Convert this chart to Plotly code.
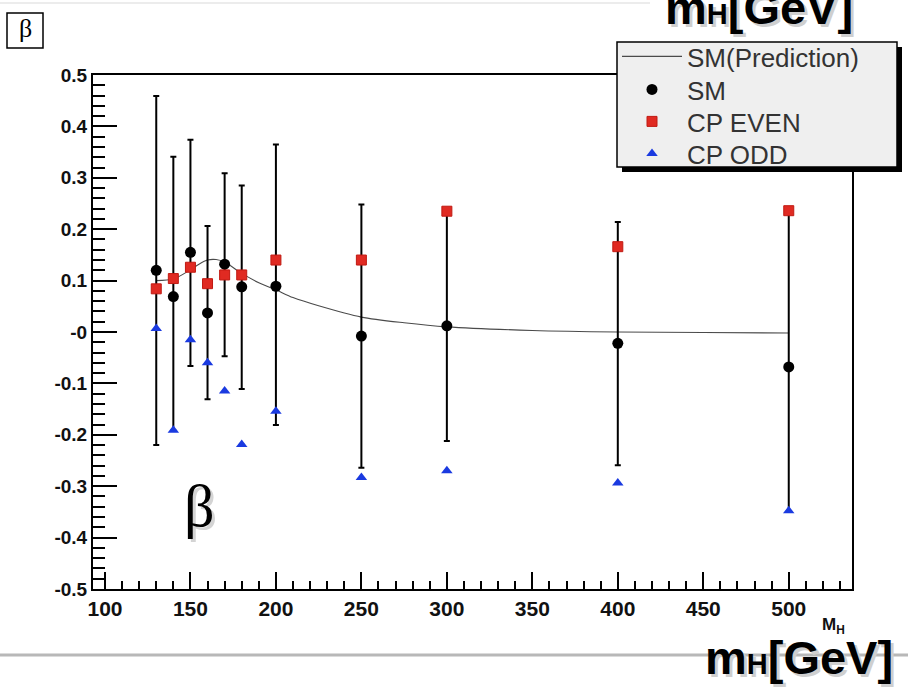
import plotly.graph_objects as go

# ---------------- data ----------------
masses = [130, 140, 150, 160, 170, 180, 200, 250, 300, 400, 500]
sm_beta = [0.120, 0.069, 0.155, 0.037, 0.132, 0.088, 0.089, -0.008, 0.012, -0.022, -0.068]
sm_upper = [0.459, 0.341, 0.374, 0.206, 0.309, 0.285, 0.365, 0.248, 0.235, 0.214, 0.236]
sm_lower = [-0.220, -0.192, -0.066, -0.131, -0.047, -0.111, -0.181, -0.264, -0.212, -0.259, -0.349]
cp_even = [0.084, 0.104, 0.126, 0.094, 0.111, 0.111, 0.140, 0.140, 0.235, 0.166, 0.236]
cp_odd = [0.007, -0.191, -0.015, -0.060, -0.115, -0.219, -0.154, -0.283, -0.270, -0.294, -0.348]

pred_m = [130, 140, 150, 155, 160, 165, 170, 180, 190, 200, 210, 225, 250, 275, 300, 350, 400, 450, 500]
pred_beta = [0.100, 0.103, 0.121, 0.132, 0.140, 0.141, 0.136, 0.114, 0.096, 0.082, 0.067, 0.051, 0.029, 0.018, 0.010, 0.003, 0.000, -0.001, -0.002]

y_tickvals = [-0.5, -0.4, -0.3, -0.2, -0.1, 0.0, 0.1, 0.2, 0.3, 0.4, 0.5]
y_ticktext = ["-0.5", "-0.4", "-0.3", "-0.2", "-0.1", "-0", "0.1", "0.2", "0.3", "0.4", "0.5"]
x_tickvals = [100, 150, 200, 250, 300, 350, 400, 450, 500]

series_names = ["SM(Prediction)", "SM", "CP EVEN", "CP ODD"]

err_plus = [u - v for u, v in zip(sm_upper, sm_beta)]
err_minus = [v - l for v, l in zip(sm_beta, sm_lower)]

# ---------------- geometry helpers (decorations only) ----------------
L, R, T, B = 93, 852, 75, 589
W, H = 908, 689


def px(x):
    return (x - L) / (R - L)


def py(y):
    return (B - y) / (B - T)


SANS = "Liberation Sans, Arial, sans-serif"
SERIF = "Liberation Serif, Times New Roman, serif"

fig = go.Figure()

fig.add_trace(go.Scatter(
    x=pred_m, y=pred_beta, mode="lines", name=series_names[0], legend="legend",
    line=dict(color="#4a4a4a", width=1.1, shape="spline", smoothing=0.8),
))
fig.add_trace(go.Scatter(
    x=masses, y=sm_beta, mode="markers", name=series_names[1], legend="legend2",
    marker=dict(symbol="circle", size=11, color="black"),
    error_y=dict(type="data", symmetric=False, array=err_plus, arrayminus=err_minus,
                 color="black", thickness=2, width=3),
))
fig.add_trace(go.Scatter(
    x=masses, y=cp_even, mode="markers", name=series_names[2], legend="legend3",
    marker=dict(symbol="square", size=10, color="#e02a22", line=dict(color="#c01a12", width=1)),
))
fig.add_trace(go.Scatter(
    x=masses, y=cp_odd, mode="markers", name=series_names[3], legend="legend4",
    marker=dict(symbol="triangle-up", size=10, color="#1a3ae0"),
))

fig.update_xaxes(
    range=[93, 537], showgrid=False, zeroline=False,
    showline=True, linecolor="black", linewidth=2, mirror=True,
    tickmode="array", tickvals=x_tickvals,
    ticks="inside", ticklen=17, tickwidth=1.5, tickcolor="black",
    minor=dict(dtick=10, tick0=100, ticks="inside", ticklen=8, tickwidth=1.5, tickcolor="black"),
    tickfont=dict(family=SANS, size=21, color="#111111", weight="bold"),
)
fig.update_yaxes(
    range=[-0.5, 0.5], showgrid=False, zeroline=False,
    showline=True, linecolor="black", linewidth=2, mirror=True,
    tickmode="array", tickvals=y_tickvals, ticktext=y_ticktext,
    ticks="inside", ticklen=24, tickwidth=1.5, tickcolor="black",
    minor=dict(dtick=0.02, tick0=0, ticks="inside", ticklen=12, tickwidth=1.5, tickcolor="black"),
    tickfont=dict(family=SANS, size=19, color="#111111", weight="bold"),
)

shapes = []
# legend shadow and box
shapes.append(dict(type="rect", xref="paper", yref="paper",
                   x0=px(622), x1=px(902), y0=py(172), y1=py(47),
                   fillcolor="black", line=dict(width=0), layer="above"))
shapes.append(dict(type="rect", xref="paper", yref="paper",
                   x0=px(617), x1=px(897), y0=py(167), y1=py(42),
                   fillcolor="#efefef", line=dict(color="black", width=1.5), layer="above"))
# top-left beta box
shapes.append(dict(type="rect", xref="paper", yref="paper",
                   x0=px(7), x1=px(43), y0=py(48), y1=py(13),
                   fillcolor="white", line=dict(color="black", width=1.5)))
# gray separator line at bottom
shapes.append(dict(type="line", xref="paper", yref="paper",
                   x0=px(0), x1=px(908), y0=py(655), y1=py(655),
                   line=dict(color="#b8b8b8", width=3)))
# faint line at top
shapes.append(dict(type="line", xref="paper", yref="paper",
                   x0=px(0), x1=px(650), y0=py(3), y1=py(3),
                   line=dict(color="#ececec", width=2)))

annotations = []
annotations.append(dict(xref="paper", yref="paper", x=px(25), y=py(28),
                        text="β", showarrow=False, xanchor="center", yanchor="middle",
                        font=dict(family=SERIF, size=26, color="black")))
# big beta inside plot (with soft shadow)
annotations.append(dict(xref="paper", yref="paper", x=px(202), y=py(509),
                        text="β", showarrow=False, xanchor="center", yanchor="middle",
                        font=dict(family=SERIF, size=60, color="#d4d4d4")))
annotations.append(dict(xref="paper", yref="paper", x=px(199), y=py(506),
                        text="β", showarrow=False, xanchor="center", yanchor="middle",
                        font=dict(family=SERIF, size=60, color="black")))
# axis title M_H
annotations.append(dict(xref="paper", yref="paper", x=px(820), y=py(626),
                        text="M<sub>H</sub>", showarrow=False, xanchor="left", yanchor="middle",
                        font=dict(family=SANS, size=17, color="#111111", weight="bold")))

big_txt = "m<span style='font-size:29px'>H</span>[GeV]"
for (xx, yy) in [(703, 657), (663, 7)]:
    annotations.append(dict(xref="paper", yref="paper", x=px(xx + 3), y=py(yy + 3),
                            text=big_txt, showarrow=False, xanchor="left", yanchor="middle",
                            font=dict(family=SANS, size=47, color="#cfcfcf", weight="bold")))
    annotations.append(dict(xref="paper", yref="paper", x=px(xx), y=py(yy),
                            text=big_txt, showarrow=False, xanchor="left", yanchor="middle",
                            font=dict(family=SANS, size=47, color="black", weight="bold")))

legend_centers = [57, 90, 122, 154]
legend_common = dict(xanchor="left", yanchor="top", bgcolor="rgba(0,0,0,0)",
                     borderwidth=0, font=dict(family=SANS, size=26, color="#333333"),
                     itemwidth=60)
legend_layouts = {}
for i, key in enumerate(["legend", "legend2", "legend3", "legend4"]):
    legend_layouts[key] = dict(x=px(617), y=py(legend_centers[i] - 24), **legend_common)

fig.update_layout(
    width=W, height=H,
    margin=dict(l=L, r=W - R, t=T, b=H - B, pad=0),
    paper_bgcolor="white", plot_bgcolor="white",
    showlegend=True,
    shapes=shapes,
    annotations=annotations,
    **legend_layouts,
)

fig.write_html("out.html")
